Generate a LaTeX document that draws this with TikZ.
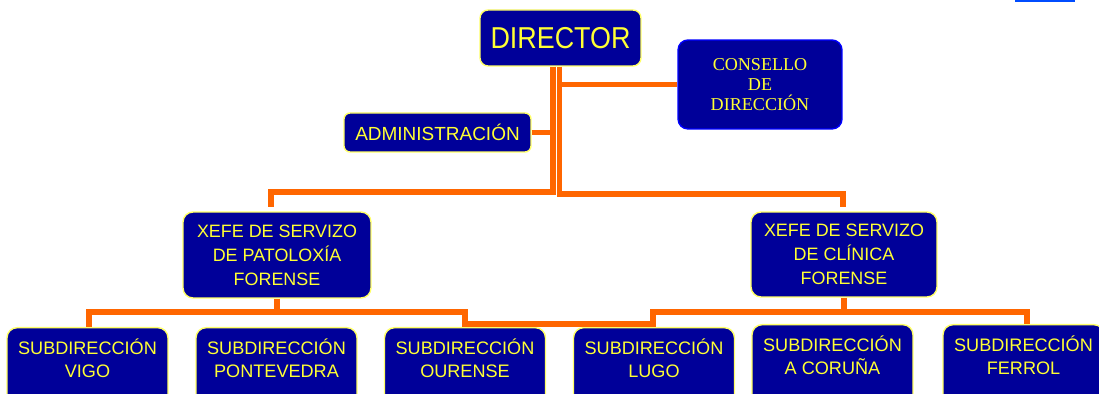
\documentclass[tikz,border=0pt]{standalone}
\usepackage{fontspec}
\setmainfont{Liberation Sans}
\newfontfamily\serifbox{Liberation Serif}
\newfontfamily\dirfont[FakeStretch=0.89]{Liberation Sans}
\definecolor{boxblue}{RGB}{0,0,153}
\definecolor{boxtext}{RGB}{255,255,51}
\definecolor{boxedge}{RGB}{255,255,102}
\definecolor{linkorange}{RGB}{255,102,0}
\begin{document}
\begin{tikzpicture}[x=0.02cm,y=-0.02cm,
  unit/.style={draw=boxedge,line width=0.8pt,fill=boxblue,text=boxtext,rounded corners=0.2cm,align=center,inner sep=0pt},
  headbox/.style={unit,minimum width=3.76cm,minimum height=1.72cm,font=\fontsize{10.2}{13.6}\selectfont},
  subbox/.style={unit,anchor=north,minimum width=3.22cm,inner ysep=6.5pt,text depth=1.6cm,font=\fontsize{10.3}{13}\selectfont},
  link/.style={draw=linkorange,line width=3pt}]
\clip (0,0) rectangle (1099,394);
\fill[blue!70!cyan] (1015,0) rectangle (1075,2);
\node[unit,minimum width=3.22cm,minimum height=1.12cm,rounded corners=0.16cm,font=\dirfont\fontsize{17.2}{20}\selectfont] (director) at (560.5,38) {DIRECTOR};
\node[unit,draw=blue,minimum width=3.28cm,minimum height=1.78cm,font=\serifbox\fontsize{10.3}{11.6}\selectfont] (consello) at (760,84.5) {CONSELLO\\DE\\DIRECCIÓN};
\node[unit,minimum width=3.74cm,minimum height=0.78cm,rounded corners=0.12cm,font=\fontsize{10.8}{13}\selectfont] (admin) at (437.5,132.5) {ADMINISTRACIÓN};
\node[headbox] (patol) at (277,255) {XEFE DE SERVIZO\\DE PATOLOXÍA\\FORENSE};
\node[headbox,minimum width=3.72cm,minimum height=1.7cm] (clinica) at (844,254.5) {XEFE DE SERVIZO\\DE CLÍNICA\\FORENSE};
\node[subbox] (vigo) at (87.5,327) {SUBDIRECCIÓN\\VIGO};
\node[subbox] (ponte) at (276.5,327) {SUBDIRECCIÓN\\PONTEVEDRA};
\node[subbox] (ourense) at (465,327) {SUBDIRECCIÓN\\OURENSE};
\node[subbox] (lugo) at (654,327) {SUBDIRECCIÓN\\LUGO};
\node[subbox] (coruna) at (832.5,324) {SUBDIRECCIÓN\\A CORUÑA};
\node[subbox] (ferrol) at (1023.5,324) {SUBDIRECCIÓN\\FERROL};
\draw[link,shorten >=0.08cm] (director.south -| 553,0) |- (271,192) -- (patol.north -| 271,0);
\draw[link,shorten >=0.08cm] (director.south -| 559.5,0) |- (843,194) -- (clinica.north -| 843,0);
\draw[link] (consello.west) -- (consello.west -| 559.5,0);
\draw[link] (admin.east) -- (admin.east -| 553,0);
\draw[link] (patol.south) -- (patol.south |- 0,312);
\draw[link] (vigo.north -| 89,0) |- (465,312) -- (ourense.north -| 465,0);
\draw[link] (ourense.north -| 465,0) ++(0,-3) -| (lugo.north -| 653,0);
\draw[link] (clinica.south) -- (clinica.south |- 0,312);
\draw[link] (lugo.north -| 653,0) |- (1027,312) -- (ferrol.north -| 1027,0);
\end{tikzpicture}
\end{document}
